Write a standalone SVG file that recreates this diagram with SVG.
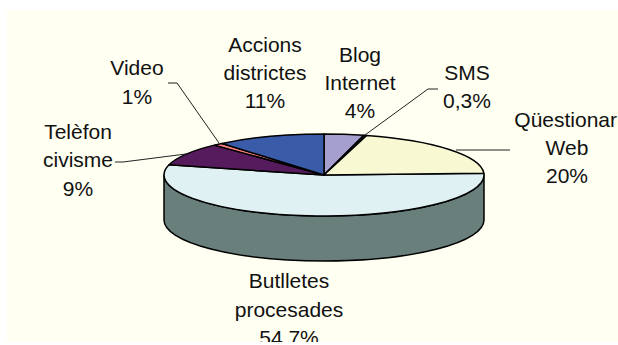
<svg xmlns="http://www.w3.org/2000/svg" width="618" height="345" viewBox="0 0 618 345">
<style>
.lbl{font-family:"Liberation Sans",Arial,sans-serif;font-size:21px;fill:#111;text-anchor:middle}
.sl{stroke:#000;stroke-width:1.5;stroke-linejoin:round}
.ld{stroke:#222;stroke-width:1;fill:none}
</style>
<rect x="0" y="0" width="618" height="345" fill="#ffffff"/>
<rect x="7" y="10" width="611" height="332" fill="#fffff2"/>
<g id="side">
<path class="sl" fill="#687f7b" d="M164,175 L164,220 A160,41 0 0 0 484,220 L484,175 A160,41 0 0 1 164,175 Z"/>
</g>
<g id="butlletes">
<path class="sl" fill="#dff1f2" d="M324,175 L483.85,173.2 A160,41 0 1 1 169.03,164.8 Z"/>
<text class="lbl" x="289" y="288">Butlletes</text>
<text class="lbl" x="289" y="316.5">procesades</text>
<text class="lbl" x="289" y="345">54.7%</text>
</g>
<g id="blog">
<path class="sl" fill="#a49fcc" d="M324,175 L324,134 A160,41 0 0 1 363.79,135.29 Z"/>
<text class="lbl" x="360" y="61.5">Blog</text>
<text class="lbl" x="360" y="89.5">Internet</text>
<text class="lbl" x="360" y="118">4%</text>
</g>
<g id="sms">
<path class="sl" fill="#222222" d="M324,175 L363.79,135.29 A160,41 0 0 1 366.7,135.49 Z"/>
<text class="lbl" x="467" y="80">SMS</text>
<text class="lbl" x="467" y="108">0,3%</text>
</g>
<g id="questionari">
<path class="sl" fill="#f8f8d3" d="M324,175 L366.7,135.49 A160,41 0 0 1 483.85,173.2 Z"/>
<text class="lbl" x="568" y="126.5">Qüestionari</text>
<text class="lbl" x="567" y="155">Web</text>
<text class="lbl" x="567" y="183">20%</text>
</g>
<g id="telefon">
<path class="sl" fill="#561b5c" d="M324,175 L169.03,164.8 A160,41 0 0 1 214.47,145.11 Z"/>
<text class="lbl" x="78" y="138.5">Telèfon</text>
<text class="lbl" x="78" y="167">civisme</text>
<text class="lbl" x="78" y="196">9%</text>
</g>
<g id="video">
<path class="sl" fill="#ff8080" d="M324,175 L214.47,145.11 A160,41 0 0 1 222.01,143.41 Z"/>
<text class="lbl" x="137" y="75">Video</text>
<text class="lbl" x="137" y="104">1%</text>
</g>
<g id="accions">
<path class="sl" fill="#3a5ba8" d="M324,175 L222.01,143.41 A160,41 0 0 1 324,134 Z"/>
<text class="lbl" x="265" y="51.5">Accions</text>
<text class="lbl" x="265" y="80">districtes</text>
<text class="lbl" x="265" y="108">11%</text>
</g>
<g id="connectors">
<polyline class="ld" points="365,135 428,89 438,89"/>
<polyline class="ld" points="456,150 510,150"/>
<polyline class="ld" points="219,143 177,83 168,83"/>
<polyline class="ld" points="186,154 123,162 115,162"/>
</g>
<rect x="0" y="342" width="618" height="3" fill="#ffffff"/>
</svg>
